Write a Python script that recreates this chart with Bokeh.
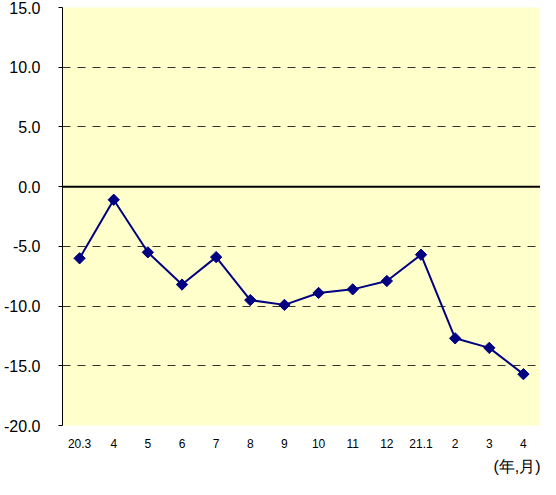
import math
from bokeh.plotting import figure
from bokeh.models import Range1d, FixedTicker, Span, Title, NumeralTickFormatter
from bokeh.embed import file_html
from bokeh.resources import INLINE

months = ["20.3", "4", "5", "6", "7", "8", "9", "10", "11", "12", "21.1", "2", "3", "4"]
values = [-6.0, -1.1, -5.5, -8.2, -5.9, -9.5, -9.9, -8.9, -8.6, -7.9, -5.7, -12.7, -13.5, -15.7]
y_ticks = [-20, -15, -10, -5, 0, 5, 10, 15]
unit_label = "(年,月)"

xs = [i + 0.5 for i in range(len(months))]

p = figure(width=540, height=479, output_backend="svg", toolbar_location=None,
           x_range=Range1d(0, len(months)), y_range=Range1d(-20, 15),
           min_border_left=62, min_border_right=0, min_border_top=7, min_border_bottom=53)

p.background_fill_color = "#FFFFCC"
p.border_fill_color = "white"
p.outline_line_color = None

p.xgrid.visible = False
p.ygrid.grid_line_color = "#333333"
p.ygrid.grid_line_dash = "8 7"
p.ygrid.grid_line_width = 1

p.yaxis.ticker = FixedTicker(ticks=y_ticks)
p.yaxis.formatter = NumeralTickFormatter(format="0.0")
p.yaxis.axis_line_color = "black"
p.yaxis.axis_line_width = 1
p.yaxis.major_tick_out = 4
p.yaxis.major_tick_in = 0
p.yaxis.minor_tick_line_color = None
p.yaxis.major_label_standoff = 18
p.yaxis.major_label_text_font = "Liberation Sans"
p.yaxis.major_label_text_font_size = "16px"
p.yaxis.major_label_text_color = "black"

p.xaxis.ticker = FixedTicker(ticks=xs)
p.xaxis.major_label_overrides = {x: m for x, m in zip(xs, months)}
p.xaxis.axis_line_color = None
p.xaxis.major_tick_line_color = None
p.xaxis.minor_tick_line_color = None
p.xaxis.major_label_standoff = 7
p.xaxis.major_label_text_font = "Liberation Sans"
p.xaxis.major_label_text_font_size = "12px"
p.xaxis.major_label_text_color = "black"

p.add_layout(Span(location=0, dimension="width", line_color="black", line_width=2))

p.line(xs, values, line_color="#000080", line_width=2)
p.scatter(xs, values, marker="square", size=8, angle=math.pi / 4,
          fill_color="#000080", line_color="#000080")

p.add_layout(Title(text=unit_label, align="right", text_font_size="16px",
                   text_font="Liberation Sans", text_font_style="normal",
                   text_color="black", standoff=10, offset=0), "below")

open("out.html", "w").write(file_html(p, INLINE))
